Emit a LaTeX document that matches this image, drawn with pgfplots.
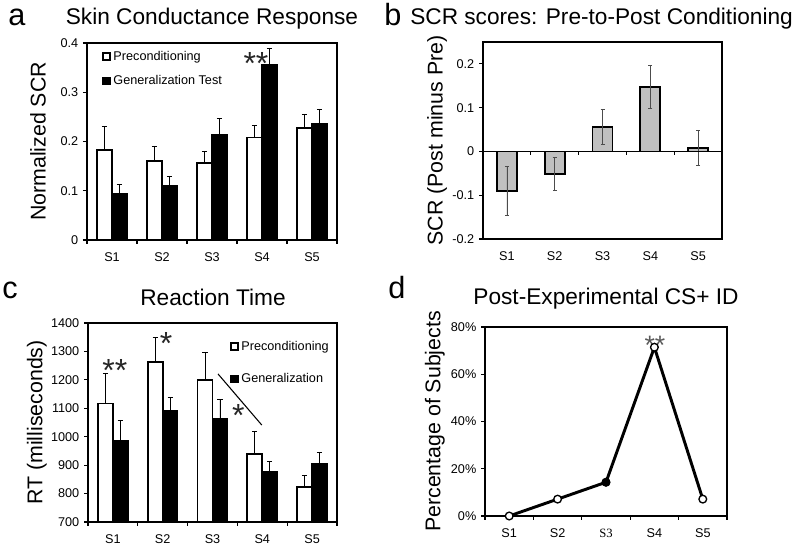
\documentclass[border=0pt]{standalone}
\usepackage{fontspec}
\setmainfont{Liberation Sans}
\newfontfamily\serifS{Liberation Serif}
\usepackage{pgfplots}
\pgfplotsset{compat=1.18}
\definecolor{bargray}{RGB}{192,192,192}
\pgfplotsset{
  myax/.style={
    scale only axis,
    anchor=south west,
    axis line style={line width=0.9pt},
    tick align=outside,
    major tick length=3pt,
    minor tick length=3pt,
    every tick/.style={black, line width=0.8pt},
    xmin=-0.5, xmax=4.5,
    xtick={0,...,4},
    xticklabels={S1,S2,S3,S4,S5},
    major x tick style={draw=none},
    minor xtick={-0.5,0.5,...,4.5},
    xtick pos=bottom, ytick pos=left,
    tick label style={font=\fontsize{9.5}{10}\selectfont},
    xticklabel style={yshift=-3pt},
    /pgf/number format/assume math mode=true,
    ylabel style={font=\fontsize{16}{17}\selectfont, anchor=center},
  },
  errA/.style={error bars/.cd, y dir=plus, y explicit, error bar style={line width=0.6pt, black},
    error mark options={rotate=90, mark size=2pt, line width=0.6pt, black}},
}
\begin{document}
\begin{tikzpicture}
\useasboundingbox (0,0) rectangle (600pt,412.5pt);
% panel letters and titles
\node[anchor=base west, inner sep=0pt, font=\fontsize{23}{23}\selectfont] at (6pt,393pt) {a};
\node[anchor=base, inner sep=0pt, font=\fontsize{17}{17}\selectfont] at (159pt,393.75pt) {Skin Conductance Response};
\node[anchor=base west, inner sep=0pt, font=\fontsize{23}{23}\selectfont] at (288pt,393pt) {b};
\node[anchor=base west, inner sep=0pt, font=\fontsize{17}{17}\selectfont] at (307.5pt,393.75pt) {SCR scores: Pre-to-Post Conditioning};
\node[anchor=base west, inner sep=0pt, font=\fontsize{23}{23}\selectfont] at (1.5pt,188.25pt) {c};
\node[anchor=base, inner sep=0pt, font=\fontsize{17}{17}\selectfont] at (159.75pt,183pt) {Reaction Time};
\node[anchor=base west, inner sep=0pt, font=\fontsize{23}{23}\selectfont] at (291pt,188.25pt) {d};
\node[anchor=base, inner sep=0pt, font=\fontsize{17}{17}\selectfont] at (454.5pt,183.75pt) {Post-Experimental CS+ ID};

% ---------------- panel a
\begin{axis}[myax, at={(65.25pt,232.5pt)}, width=187.5pt, height=147.75pt,
  ymin=0, ymax=0.4, ytick={0,0.1,0.2,0.3,0.4}, yticklabels={0,0.1,0.2,0.3,0.4},
  ylabel={Normalized SCR}, ylabel style={at={(axis description cs:-0.196,0.5)}},
  legend style={draw=none, fill=none, at={(axis description cs:0.06,0.975)}, anchor=north west,
    font=\fontsize{9.5}{11}\selectfont, row sep=6pt, inner sep=0pt},
  legend cell align=left]
\addlegendimage{legend image code/.code={\draw[fill=white,draw=black,line width=1.2pt] (0pt,-2.6pt) rectangle (5.2pt,2.6pt);}}
\addlegendentry{Preconditioning}
\addlegendimage{legend image code/.code={\draw[fill=black,draw=black,line width=1.2pt] (0pt,-2.6pt) rectangle (5.2pt,2.6pt);}}
\addlegendentry{Generalization Test}
\addplot[ybar, bar width=0.3, bar shift=0, fill=white, draw=black, line width=1.4pt, forget plot, errA]
  coordinates {(-0.15,0.183) +- (0,0.047) (0.85,0.161) +- (0,0.030) (1.85,0.157) +- (0,0.023) (2.85,0.208) +- (0,0.025) (3.85,0.228) +- (0,0.028)};
\addplot[ybar, bar width=0.3, bar shift=0, fill=black, draw=black, line width=1pt, forget plot, errA]
  coordinates {(0.15,0.095) +- (0,0.017) (1.15,0.110) +- (0,0.020) (2.15,0.214) +- (0,0.033) (3.15,0.356) +- (0,0.034) (4.15,0.236) +- (0,0.030)};
\node[anchor=base, inner sep=0pt, font=\fontsize{24}{24}\selectfont, yshift=-13.8pt, text=black!85] at (axis cs:2.88,0.3736) {**};
\end{axis}

% ---------------- panel b
\begin{axis}[myax, at={(362.25pt,233.25pt)}, width=179.25pt, height=147.75pt,
  ymin=-0.2, ymax=0.25, ytick={-0.2,-0.1,0,0.1,0.2}, yticklabels={-0.2,-0.1,0,0.1,0.2},
  minor xtick={},
  ylabel={SCR (Post minus Pre)}, ylabel style={at={(axis description cs:-0.192,0.5)}}]
\addplot[ybar, bar width=0.42, bar shift=0, fill=bargray, draw=black, line width=1.4pt,
  error bars/.cd, y dir=both, y explicit, error bar style={line width=0.5pt, black!70},
  error mark options={rotate=90, mark size=1.5pt, line width=0.5pt, black!70}]
  coordinates {(0,-0.0897) +- (0,0.056) (1,-0.0517) +- (0,0.038) (2,0.0555) +- (0,0.040) (3,0.148) +- (0,0.049) (4,0.0076) +- (0,0.040)};
\draw[line width=1.1pt] (axis cs:-0.5,0) -- (axis cs:4.5,0);
\pgfplotsinvokeforeach{0.5,1.5,2.5,3.5}{\draw[line width=0.9pt] (axis cs:#1,0) -- ++(0pt,-3pt);}
\end{axis}

% ---------------- panel c
\begin{axis}[myax, at={(66pt,21pt)}, width=186.75pt, height=149.25pt,
  ymin=700, ymax=1400, ytick={700,800,...,1400}, yticklabels={700,800,900,1000,1100,1200,1300,1400},
  ylabel={RT (milliseconds)}, ylabel style={at={(axis description cs:-0.205,0.5)}},
  legend style={draw=none, fill=none, at={(axis description cs:0.57,0.925)}, anchor=north west,
    font=\fontsize{9.5}{11}\selectfont, row sep=12pt, inner sep=0pt},
  legend cell align=left]
\addlegendimage{legend image code/.code={\draw[fill=white,draw=black,line width=1.2pt] (0pt,-2.6pt) rectangle (5.2pt,2.6pt);}}
\addlegendentry{Preconditioning}
\addlegendimage{legend image code/.code={\draw[fill=black,draw=black,line width=1.2pt] (0pt,-2.6pt) rectangle (5.2pt,2.6pt);}}
\addlegendentry{Generalization}
\addplot[ybar, bar width=0.3, bar shift=0, fill=white, draw=black, line width=1.4pt, forget plot, errA]
  coordinates {(-0.15,1117) +- (0,106) (0.85,1262) +- (0,88) (1.85,1199) +- (0,97) (2.85,940) +- (0,80) (3.85,824) +- (0,40)};
\addplot[ybar, bar width=0.3, bar shift=0, fill=black, draw=black, line width=1pt, forget plot, errA]
  coordinates {(0.15,986) +- (0,70) (1.15,1092) +- (0,46) (2.15,1065) +- (0,68) (3.15,877) +- (0,36) (4.15,906) +- (0,38)};
\node[anchor=base, inner sep=0pt, font=\fontsize{24}{24}\selectfont, yshift=-13.8pt, text=black!85] at (axis cs:0.04,1259) {**};
\node[anchor=base, inner sep=0pt, font=\fontsize{24}{24}\selectfont, yshift=-13.8pt, text=black!85] at (axis cs:1.07,1354) {*};
\node[anchor=base, inner sep=0pt, font=\fontsize{24}{24}\selectfont, yshift=-13.8pt, text=black!85] at (axis cs:2.52,1100) {*};
\draw[line width=0.8pt] (axis cs:2.11,1221) -- (axis cs:2.99,1041);
\end{axis}

% ---------------- panel d
\begin{axis}[myax, at={(363.75pt,25.5pt)}, width=181.5pt, height=141.75pt,
  ymin=0, ymax=80, ytick={0,20,40,60,80}, yticklabels={0\%,20\%,40\%,60\%,80\%},
  xticklabels={S1,S2,{\serifS S3},S4,S5}, clip=false,
  ylabel={Percentage of Subjects}, ylabel style={at={(axis description cs:-0.207,0.5)}}]
\addplot[line width=2.2pt, black, mark=*, mark size=2.9pt, mark options={fill=white, draw=black, line width=1pt}]
  coordinates {(0,0) (1,7.14) (2,14.29) (3,71.43) (4,7.14)};
\addplot[only marks, mark=*, mark size=2.9pt, black] coordinates {(2,14.29)};
\node[anchor=base, inner sep=0pt, font=\fontsize{20}{20}\selectfont, yshift=-11.5pt, text=black!65] at (axis cs:3.01,74.9) {**};
\end{axis}
\end{tikzpicture}
\end{document}
